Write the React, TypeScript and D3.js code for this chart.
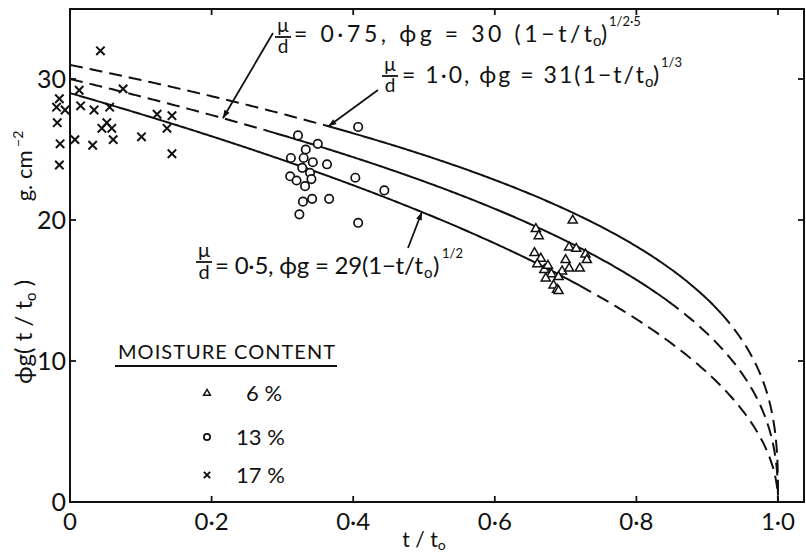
import React from "react";
import * as d3 from "d3";

// ---- axis ticks ----
const xTicks = [0, 0.2, 0.4, 0.6, 0.8, 1.0];
const xTickLabels = ["0", "0·2", "0·4", "0·6", "0·8", "1·0"];
const yTicks = [0, 10, 20, 30];
const yTickLabels = ["0", "10", "20", "30"];

// ---- model curves: φg = coef (1 - t/t0)^exp ----
const curveNames = ["μ/d = 1·0", "μ/d = 0·75", "μ/d = 0·5"];
const curveCoef = [31, 30, 29];
const curveExp = [1 / 3, 1 / 2.5, 1 / 2];

// ---- measured points [t/t0, φg] ----
const moisture6: [number, number][] = [
  [0.658, 19.4], [0.662, 18.9], [0.656, 17.7], [0.665, 17.3], [0.66, 16.9],
  [0.67, 16.5], [0.675, 16.8], [0.68, 16.2], [0.683, 15.4], [0.688, 15.1],
  [0.69, 15.0], [0.695, 16.4], [0.7, 17.2], [0.705, 16.6], [0.71, 20.0],
  [0.705, 18.1], [0.715, 18.0], [0.72, 16.6], [0.728, 17.6], [0.73, 17.2],
  [0.69, 16.0], [0.672, 15.9],
];
const moisture13: [number, number][] = [
  [0.407, 26.6], [0.322, 26.0], [0.35, 25.4], [0.333, 25.0], [0.312, 24.4],
  [0.33, 24.4], [0.343, 24.1], [0.363, 23.95], [0.328, 23.7], [0.339, 23.35],
  [0.311, 23.1], [0.32, 22.8], [0.341, 22.9], [0.332, 22.4], [0.403, 23.0],
  [0.444, 22.1], [0.329, 21.3], [0.342, 21.5], [0.366, 21.5], [0.324, 20.4],
  [0.407, 19.8],
];
const moisture17: [number, number][] = [
  [-0.015, 28.6], [-0.019, 28.0], [-0.007, 27.8], [-0.018, 26.9], [-0.014, 25.4],
  [-0.015, 23.9], [0.007, 25.7], [0.013, 29.2], [0.015, 28.1], [0.032, 25.3],
  [0.034, 27.8], [0.043, 32.0], [0.045, 26.5], [0.052, 26.9], [0.056, 28.0],
  [0.059, 26.5], [0.061, 25.7], [0.075, 29.3], [0.101, 25.9], [0.123, 27.5],
  [0.137, 26.5], [0.144, 27.4], [0.144, 24.7],
];
const legendLabels = ["6 %", "13 %", "17 %"];

// ---- style (where each curve is drawn solid) ----
const solidFrom = [0.36, 0.275, 0];
const solidTo = [0.92, 0.845, 0.72];

const FONT = "Lato, 'DejaVu Sans', sans-serif";
const INK = "#111";

function Marker({ kind, cx, cy, s = 1 }: { kind: number; cx: number; cy: number; s?: number }) {
  if (kind === 0) {
    const a = 4.8 * s;
    return (
      <path
        d={`M${cx},${cy - a}L${cx + a * 0.95},${cy + a * 0.65}L${cx - a * 0.95},${cy + a * 0.65}Z`}
        fill="white"
        stroke={INK}
        strokeWidth={1.5}
      />
    );
  }
  if (kind === 1) {
    return <circle cx={cx} cy={cy} r={4.2 * s} fill="white" stroke={INK} strokeWidth={1.7} />;
  }
  const a = 4.2 * s;
  return (
    <path
      d={`M${cx - a},${cy - a}L${cx + a},${cy + a}M${cx - a},${cy + a}L${cx + a},${cy - a}`}
      stroke={INK}
      strokeWidth={2}
    />
  );
}

export default function App() {
  const left = 70, right = 804, top = 9, bottom = 502;
  const x = d3.scaleLinear().domain([0, 1]).range([70, 778]);
  const y = d3.scaleLinear().domain([0, 30]).range([502, 79]);

  const ts = d3.range(0, 0.995, 0.0025).concat([0.995, 0.997, 0.998, 0.999, 0.9995, 0.9999, 1]);

  const curves = curveCoef.map((c, i) => {
    const f = (t: number) => c * Math.pow(Math.max(0, 1 - t), curveExp[i]);
    const line = d3
      .line<number>()
      .x((t) => x(t))
      .y((t) => y(f(t)));
    const segA = ts.filter((t) => t <= solidFrom[i]).concat([solidFrom[i]]);
    const segB = [solidFrom[i]].concat(ts.filter((t) => t > solidFrom[i] && t < solidTo[i]), [solidTo[i]]);
    const segC = [solidTo[i]].concat(ts.filter((t) => t > solidTo[i]));
    return { name: curveNames[i], dashA: solidFrom[i] > 0 ? line(segA) : null, solid: line(segB), dashC: line(segC) };
  });

  const series = [moisture6, moisture13, moisture17];

  const arrow = (x1: number, y1: number, x2: number, y2: number, key: string) => {
    const ang = Math.atan2(y2 - y1, x2 - x1);
    const L = 8, Wd = 3;
    const bx = x2 - L * Math.cos(ang), by = y2 - L * Math.sin(ang);
    const px = -Math.sin(ang) * Wd, py = Math.cos(ang) * Wd;
    return (
      <g key={key}>
        <line x1={x1} y1={y1} x2={x2} y2={y2} stroke={INK} strokeWidth={1.8} />
        <path d={`M${x2},${y2}L${bx + px},${by + py}L${bx - px},${by - py}Z`} fill={INK} />
      </g>
    );
  };

  const frac = (cx: number, yBar: number, fs: number, key: string) => (
    <g key={key} fontFamily={FONT} fontSize={fs} fill={INK} textAnchor="middle">
      <text x={cx} y={yBar - 5}>μ</text>
      <line x1={cx - 8} x2={cx + 8} y1={yBar} y2={yBar} stroke={INK} strokeWidth={1.8} />
      <text x={cx} y={yBar + fs * 0.85}>d</text>
    </g>
  );

  return (
    <svg
      width={806}
      height={556}
      style={{ position: "absolute", left: 0, top: 0, background: "white" }}
      fontFamily={FONT}
    >
      <rect x={0} y={0} width={806} height={556} fill="white" />

      {/* frame */}
      <rect x={left} y={top} width={right - left} height={bottom - top} fill="none" stroke={INK} strokeWidth={2} />

      {/* x ticks */}
      {xTicks.map((t, i) => (
        <g key={"xt" + i}>
          {i > 0 && <line x1={x(t)} x2={x(t)} y1={bottom} y2={bottom - 6} stroke={INK} strokeWidth={1.8} />}
          {i > 0 && <line x1={x(t)} x2={x(t)} y1={top} y2={top + 6} stroke={INK} strokeWidth={1.8} />}
          <text x={x(t)} y={530} textAnchor="middle" fontSize={24} fill={INK}>
            {xTickLabels[i]}
          </text>
        </g>
      ))}
      <text x={x(0.5)} y={547} textAnchor="middle" fontSize={21} fill={INK}>
        t / t<tspan fontSize={14} dy={3}>o</tspan>
      </text>

      {/* y ticks */}
      {yTicks.map((v, i) => (
        <g key={"yt" + i}>
          {i > 0 && <line x1={left} x2={left + 6} y1={y(v)} y2={y(v)} stroke={INK} strokeWidth={1.8} />}
          {i > 0 && <line x1={right} x2={right - 6} y1={y(v)} y2={y(v)} stroke={INK} strokeWidth={1.8} />}
          <text x={66} y={y(v) + 9} textAnchor="end" fontSize={25} fill={INK}>
            {yTickLabels[i]}
          </text>
        </g>
      ))}

      {/* y axis title */}
      <text transform="translate(32,332) rotate(-90)" textAnchor="middle" fontSize={24} fill={INK}>
        ϕg( t / t<tspan fontSize={15} dy={4}>o</tspan>
        <tspan dy={-4}> )</tspan>
      </text>
      <text transform="translate(32,166) rotate(-90)" textAnchor="middle" fontSize={22} fill={INK}>
        g. cm<tspan fontSize={14} dy={-9}> −2</tspan>
      </text>

      {/* curves */}
      {curves.map((c, i) => (
        <g key={"c" + i} fill="none" stroke={INK} strokeWidth={2}>
          {c.dashA && <path d={c.dashA} strokeDasharray="13 7" />}
          <path d={c.solid!} />
          <path d={c.dashC!} strokeDasharray="13 7" />
        </g>
      ))}

      {/* points */}
      {series.map((s, k) =>
        s.map((p, j) => <Marker key={`p${k}-${j}`} kind={k} cx={x(p[0])} cy={y(p[1])} />)
      )}

      {/* annotation μ/d = 0.75 */}
      {frac(283, 37, 19, "fa")}
      <text x={294} y={42} fontSize={23} fill={INK} textLength={298} lengthAdjust="spacing">
        = 0·75, ϕg = 30 (1−t/t
      </text>
      <text x={593} y={46} fontSize={15} fill={INK}>o</text>
      <text x={601} y={42} fontSize={23} fill={INK}>)</text>
      <text x={609} y={26} fontSize={13} fill={INK}>1/2·5</text>
      {arrow(273, 33, x(0.216), y(30 * Math.pow(1 - 0.216, 0.4)), "aa")}

      {/* annotation μ/d = 1.0 */}
      {frac(390, 76, 19, "fb")}
      <text x={402} y={83} fontSize={23} fill={INK} textLength={242} lengthAdjust="spacing">
        = 1·0, ϕg = 31(1−t/t
      </text>
      <text x={645} y={87} fontSize={15} fill={INK}>o</text>
      <text x={653} y={83} fontSize={23} fill={INK}>)</text>
      <text x={661} y={67} fontSize={13} fill={INK}>1/3</text>
      {arrow(378, 90, x(0.365), y(31 * Math.pow(1 - 0.365, 1 / 3)), "ab")}

      {/* annotation μ/d = 0.5 */}
      {frac(204, 262, 20, "fc")}
      <text x={215} y={274} fontSize={24} fill={INK} textLength={208} lengthAdjust="spacing">
        = 0·5, ϕg = 29(1−t/t
      </text>
      <text x={424} y={278} fontSize={15} fill={INK}>o</text>
      <text x={433} y={274} fontSize={24} fill={INK}>)</text>
      <text x={442} y={258} fontSize={13} fill={INK}>1/2</text>
      {arrow(408, 248, x(0.497), y(29 * Math.sqrt(1 - 0.497)), "ac")}

      {/* legend */}
      <text x={118} y={359} fontSize={20} fill={INK} textLength={217} lengthAdjust="spacing">
        MOISTURE CONTENT
      </text>
      <line x1={115} x2={337} y1={366} y2={366} stroke={INK} strokeWidth={2} />
      {legendLabels.map((l, i) => {
        const cy = [393, 437, 475][i];
        return (
          <g key={"lg" + i}>
            <Marker kind={i} cx={207} cy={cy} s={0.75} />
            <text x={i === 0 ? 246 : 236} y={cy + 8} fontSize={22} fill={INK}>
              {l}
            </text>
          </g>
        );
      })}
    </svg>
  );
}
